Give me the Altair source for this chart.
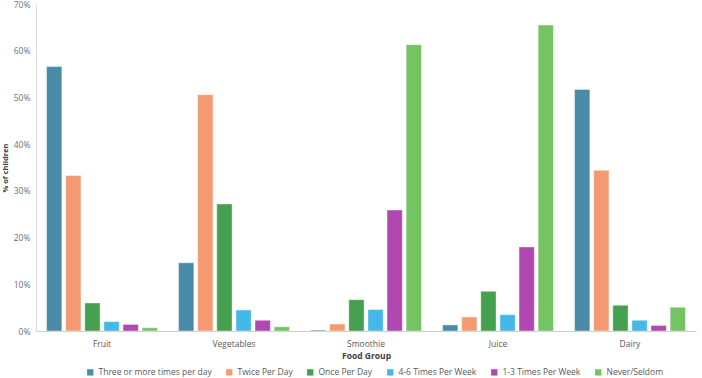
import altair as alt
import pandas as pd

groups = ["Fruit", "Vegetables", "Smoothie", "Juice", "Dairy"]
series = ["Three or more times per day", "Twice Per Day", "Once Per Day",
          "4-6 Times Per Week", "1-3 Times Per Week", "Never/Seldom"]
colors = ["#4A8BAA", "#F59A70", "#45A050", "#45B8E8", "#B048B0", "#74C464"]

three = [56.6, 14.6, 0.2, 1.3, 51.7]
twice = [33.3, 50.6, 1.5, 3.0, 34.4]
once = [6.0, 27.2, 6.7, 8.5, 5.5]
w46 = [2.0, 4.5, 4.6, 3.5, 2.3]
w13 = [1.4, 2.3, 25.9, 18.0, 1.2]
never = [0.7, 0.9, 61.3, 65.5, 5.1]

vals = [three, twice, once, w46, w13, never]
rows = []
for s, v in zip(series, vals):
    for g, x in zip(groups, v):
        rows.append({"group": g, "series": s, "value": x / 100})
df = pd.DataFrame(rows)

font = "Open Sans"
chart = alt.Chart(df).mark_bar(stroke="white", strokeWidth=0.6, strokeOpacity=0.7).encode(
    x=alt.X("group:N", sort=groups, title="Food Group",
            scale=alt.Scale(paddingInner=0.16, paddingOuter=0.08),
            axis=alt.Axis(labelAngle=0, ticks=False, domainColor="#cccccc",
                          labelColor="#595959", labelFontSize=8.5, labelFont=font,
                          titleFont=font, titleFontSize=8.5, titleFontWeight="bold",
                          titleColor="#404040", labelPadding=8, titlePadding=4)),
    xOffset=alt.XOffset("series:N", sort=series, scale=alt.Scale(paddingInner=0.2)),
    y=alt.Y("value:Q", title="% of children",
            scale=alt.Scale(domain=[0, 0.7], nice=False),
            axis=alt.Axis(format=".0%", values=[0, .1, .2, .3, .4, .5, .6, .7],
                          grid=False, ticks=False, domainColor="#d9d9d9",
                          labelColor="#707070", labelFontSize=8.5, labelFont=font,
                          titleFont=font, titleFontSize=7.5, titleFontWeight="bold",
                          titleColor="#404040", labelPadding=6, titlePadding=4)),
    color=alt.Color("series:N", sort=series,
                    scale=alt.Scale(domain=series, range=colors),
                    legend=alt.Legend(orient="none", direction="horizontal",
                                      legendX=50, legendY=364, title=None,
                                      symbolType="square", symbolSize=40,
                                      symbolStrokeWidth=0,
                                      labelFont=font, labelFontSize=8.5,
                                      labelColor="#595959", columnPadding=13)),
).properties(width=660, height=327, padding={"left": 36, "top": 4, "right": 6, "bottom": 47},
             autosize=alt.AutoSizeParams(type="none"), background="white"
).configure_view(strokeOpacity=0, strokeWidth=0)

chart.save("out.html", embed_options={"renderer": "svg", "actions": False})
